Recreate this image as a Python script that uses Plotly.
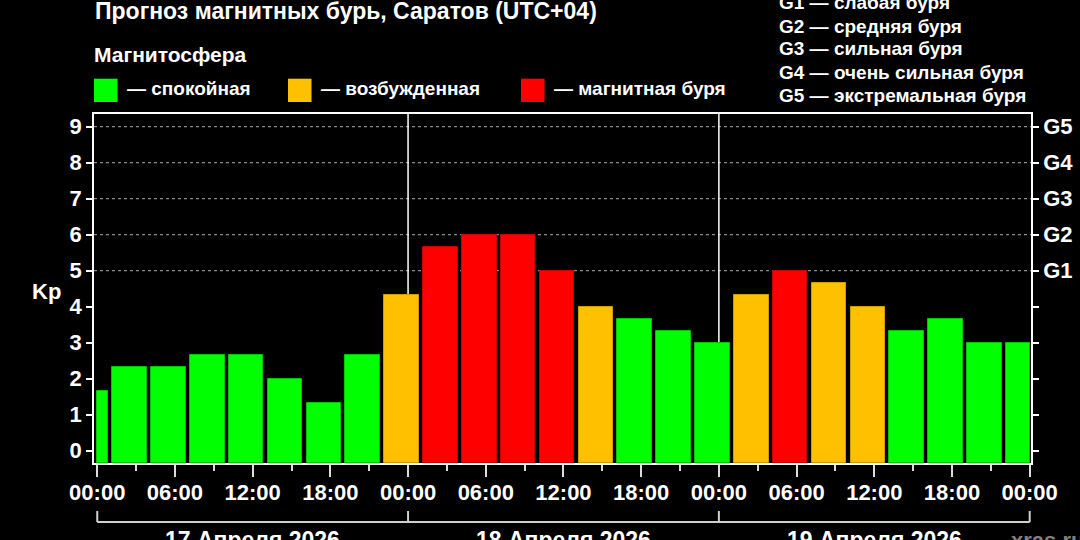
import numpy as np
import pandas as pd
import plotly.graph_objects as go

# Kp forecast in 3-hour bins, local time (UTC+04): bins start 22:00, 01:00, 04:00 ...
kp = [1.67, 2.33, 2.33, 2.67, 2.67, 2.0, 1.33, 2.67, 4.33,
      5.67, 6.0, 6.0, 5.0, 4.0, 3.67, 3.33, 3.0,
      4.33, 5.0, 4.67, 4.0, 3.33, 3.67, 3.0, 3.0]
bin_start = pd.date_range("2026-04-16 22:00", periods=len(kp), freq="3h")

days = ["2026-04-17", "2026-04-18", "2026-04-19", "2026-04-20"]
day_labels = ["17 Апреля 2026", "18 Апреля 2026", "19 Апреля 2026"]

state_names = ["спокойная", "возбужденная", "магнитная буря"]
state_colors = ["#00ff00", "#ffc000", "#ff0000"]
state_edges = ["#00c400", "#d29c00", "#c80000"]

g_levels = ["G1", "G2", "G3", "G4", "G5"]
g_kp = [5, 6, 7, 8, 9]
g_names = ["слабая буря", "средняя буря", "сильная буря",
           "очень сильная буря", "экстремальная буря"]

FONT = "Liberation Sans"
L, R, T, B = 94, 1031, 114, 463  # plot area in pixels


def px(x):
    return (x - L) / (R - L)


def py(y):
    return (B - y) / (B - T)


def txt(size, color="white"):
    return dict(family=FONT, size=size, color=color, weight="bold")


# clip bins to the 3-day window, leave a small gap between bars
win_start, win_end = pd.Timestamp(days[0]), pd.Timestamp(days[-1])
half_gap = pd.Timedelta(minutes=10)
left = pd.Series(bin_start + half_gap).clip(lower=win_start)
right = pd.Series(bin_start + pd.Timedelta(hours=3) - half_gap).clip(upper=win_end)
centers = left + (right - left) / 2
widths = (right - left).dt.total_seconds() * 1000

level = [0 if v < 4 else 1 if v < 5 else 2 for v in kp]
y_range = [-0.34, 9.35]

fig = go.Figure()
fig.add_trace(go.Bar(
    x=centers,
    y=[v - y_range[0] for v in kp],
    base=y_range[0],
    width=widths,
    marker=dict(
        color=[state_colors[i] for i in level],
        line=dict(color=[state_edges[i] for i in level], width=1),
    ),
    customdata=kp,
    hovertemplate="Kp %{customdata}<extra></extra>",
))
# dummy trace so the right-hand G axis is drawn
fig.add_trace(go.Scatter(x=[win_start], y=[None], yaxis="y2", hoverinfo="skip"))

for g in g_kp:
    fig.add_hline(y=g, line=dict(color="#8a8a8a", width=1.2, dash="dot"), layer="below")
for d in days[1:-1]:
    fig.add_vline(x=pd.Timestamp(d), line=dict(color="white", width=1.5), layer="below")

# day brackets under the time axis
bracket = dict(color="#cfcfcf", width=2)
fig.add_shape(type="line", xref="x", yref="paper", x0=days[0], x1=days[-1],
              y0=py(522), y1=py(522), line=bracket)
for d in days:
    fig.add_shape(type="line", xref="x", yref="paper", x0=d, x1=d,
                  y0=py(522), y1=py(511), line=bracket)
for d, lab in zip(days[:-1], day_labels):
    fig.add_annotation(x=pd.Timestamp(d) + pd.Timedelta(hours=12), y=py(540),
                       xref="x", yref="paper", text=lab, showarrow=False,
                       font=txt(23), xanchor="center", yanchor="middle")


def note(x, y, text, font, xanchor="left"):
    fig.add_annotation(x=px(x), y=py(y), xref="paper", yref="paper", text=text,
                       showarrow=False, font=font, xanchor=xanchor, yanchor="middle")


# header texts and legend
note(93, 11, "Прогноз магнитных бурь, Саратов (UTC+04)", txt(23))
note(92, 54.5, "Магнитосфера", txt(21))
for sx, tx, name, col in zip([94, 288, 521], [125, 319, 552], state_names, state_colors):
    fig.add_shape(type="rect", xref="paper", yref="paper",
                  x0=px(sx), x1=px(sx + 23.5), y0=py(78.7), y1=py(102),
                  fillcolor=col, line=dict(width=0))
    note(tx, 88.5, "— " + name, txt(19))

for i, (g, name) in enumerate(zip(g_levels, g_names)):
    note(777, 3 + 23 * i, f"{g} — {name}", txt(19))

note(46, 291, "Kp", txt(22), xanchor="center")
note(1009, 540, "xras.ru", txt(22, "#808080"))

yaxis_common = dict(
    range=y_range,
    tickvals=list(range(10)),
    ticks="outside", ticklen=6, tickwidth=1.5, tickcolor="white",
    showline=True, linecolor="white", linewidth=1.5,
    showgrid=False, zeroline=False, automargin=False,
    tickfont=txt(22),
)

fig.update_layout(
    width=1080, height=540,
    paper_bgcolor="black", plot_bgcolor="black",
    showlegend=False,
    margin=dict(l=L, r=1080 - R, t=T, b=540 - B, autoexpand=False),
    bargap=0,
    xaxis=dict(
        type="date",
        range=[win_start - pd.Timedelta(minutes=15), win_end + pd.Timedelta(minutes=6)],
        tick0=days[0], dtick=6 * 3600 * 1000, tickformat="%H:%M",
        ticks="outside", ticklen=12, tickwidth=1.5, tickcolor="#dddddd",
        minor=dict(dtick=3 * 3600 * 1000, ticks="outside", ticklen=6,
                   tickwidth=1.5, tickcolor="#dddddd", showgrid=False),
        showline=True, linecolor="white", linewidth=1.5, mirror=True,
        showgrid=False, zeroline=False, automargin=False,
        tickfont=txt(22),
        ticklabelstandoff=-3,
    ),
    yaxis=dict(side="left", **yaxis_common),
    yaxis2=dict(overlaying="y", side="right",
                ticktext=["" if v < 5 else g_levels[v - 5] for v in range(10)],
                **yaxis_common),
)

fig.write_html("out.html", config={"displayModeBar": False},
               post_script="document.body.style.margin = '0';")
